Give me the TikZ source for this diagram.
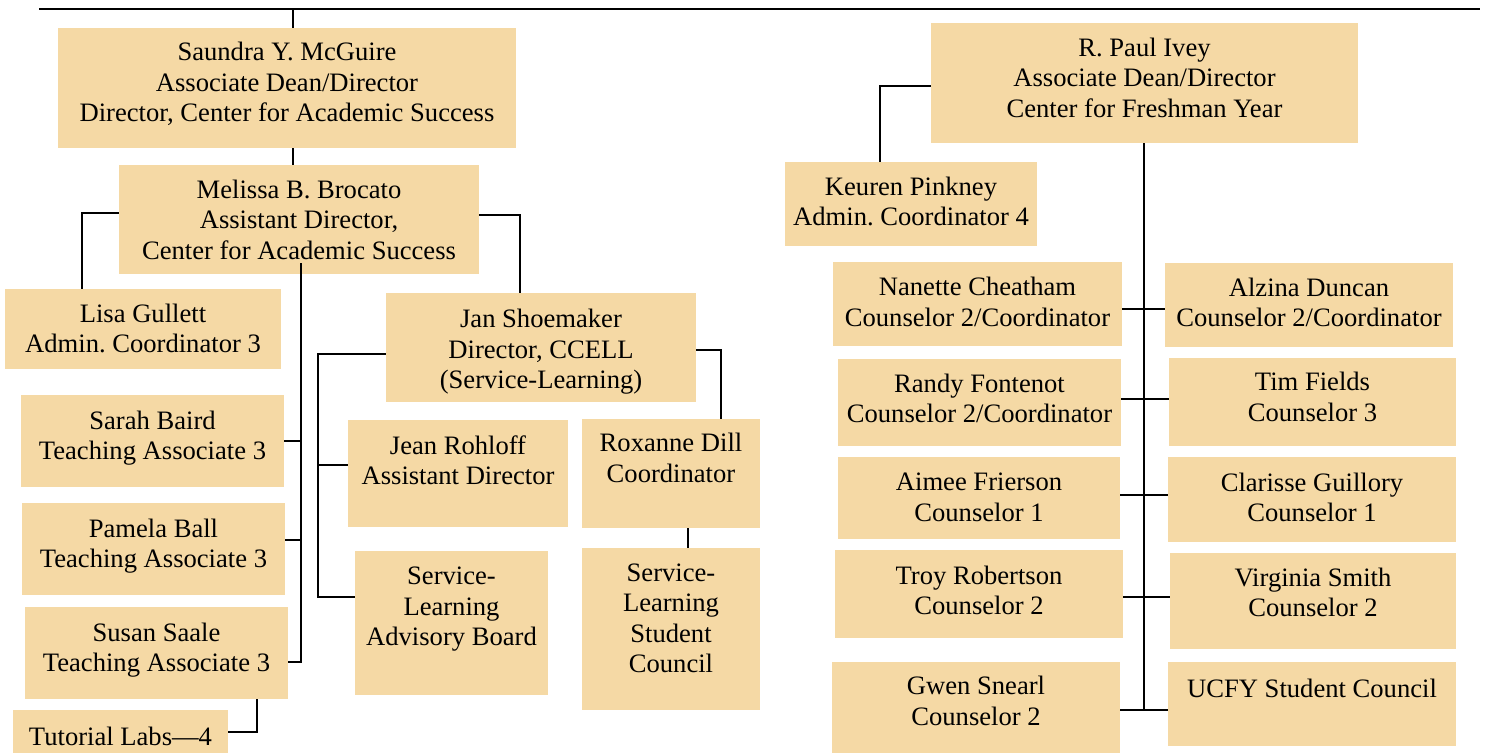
\documentclass[tikz,border=0pt]{standalone}
\usepackage{fontspec}
\setmainfont{Liberation Serif}
\usepackage{xcolor}
\usepackage{tikz}
\usetikzlibrary{positioning,calc}
\definecolor{boxtan}{HTML}{F5D9A5}
\tikzstyle{unit} = [rectangle, fill=boxtan, inner sep=0pt]
\frenchspacing

\begin{document}
\begin{tikzpicture}[x=0.5pt,y=-0.5pt]
    \tikzstyle{txt} = [align=center, inner sep=0pt, yshift=-1pt, font=\fontsize{13.3}{15.25}\selectfont,
        execute at begin node=\strut, execute at end node=\strut]
    \tikzstyle{link} = [line width=1pt]
    \useasboundingbox (0,0) rectangle (1486,753);
    % left branch
    \node[unit, minimum width=229pt, minimum height=60pt] (sm) at (287,88) {};
    \node[unit, minimum width=180pt, minimum height=54.5pt] (mb) at (299,219.5) {};
    \node[unit, minimum width=138pt, minimum height=40pt] (lg) at (143,329) {};
    \node[unit, minimum width=155pt, minimum height=54.5pt] (js) at (541,347.5) {};
    \node[unit, minimum width=131.5pt, minimum height=46pt] (sb) at (152.5,441) {};
    \node[unit, minimum width=131.5pt, minimum height=46pt] (pb) at (153.5,549) {};
    \node[unit, minimum width=131.5pt, minimum height=46pt] (ss) at (156.5,653) {};
    \node[unit, minimum width=107.5pt, minimum height=21.5pt] (tl) at (120.5,731.5) {};
    \node[unit, minimum width=110pt, minimum height=53.5pt] (jr) at (458,473.5) {};
    \node[unit, minimum width=96.5pt, minimum height=72pt] (ab) at (451.5,623) {};
    \node[unit, minimum width=89pt, minimum height=54.5pt] (rd) at (671,473.5) {};
    \node[unit, minimum width=89pt, minimum height=81pt] (sc) at (671,629) {};
    % right branch
    \node[unit, minimum width=213.5pt, minimum height=60pt] (iv) at (1144.5,83) {};
    \node[unit, minimum width=126pt, minimum height=42pt] (kp) at (911,204) {};
    \node[unit, minimum width=144.5pt, minimum height=42pt] (nc) at (977.5,304) {};
    \node[unit, minimum width=144pt, minimum height=42pt] (ad) at (1309,305) {};
    \node[unit, minimum width=141.5pt, minimum height=43.5pt] (rf) at (979.5,402.5) {};
    \node[unit, minimum width=143.5pt, minimum height=44pt] (tf) at (1312.5,402) {};
    \node[unit, minimum width=141pt, minimum height=41pt] (af) at (979,498) {};
    \node[unit, minimum width=144pt, minimum height=42.5pt] (cg) at (1312,499.5) {};
    \node[unit, minimum width=144pt, minimum height=44pt] (tr) at (979,594) {};
    \node[unit, minimum width=143pt, minimum height=48pt] (vs) at (1313,601) {};
    \node[unit, minimum width=144pt, minimum height=45.5pt] (gs) at (976,707.5) {};
    \node[unit, minimum width=144pt, minimum height=42pt] (uc) at (1312,704) {};

    % texts
    \node[txt] (smT) at (287,84.5) {Saundra Y. McGuire\\Associate Dean/Director\\Director, Center for Academic Success};
    \node[txt] (mbT) at (299,222) {Melissa B. Brocato\\Assistant Director,\\Center for Academic Success};
    \node[txt] (lgT) at (143,331) {Lisa Gullett\\Admin. Coordinator 3};
    \node[txt] (jsT) at (541,351.5) {Jan Shoemaker\\Director, CCELL\\(Service-Learning)};
    \node[txt] (sbT) at (152.5,438) {Sarah Baird\\Teaching Associate 3};
    \node[txt] (pbT) at (153.5,546) {Pamela Ball\\Teaching Associate 3};
    \node[txt] (ssT) at (156.5,650) {Susan Saale\\Teaching Associate 3};
    \node[txt] (tlT) at (120.5,737) {Tutorial Labs—4};
    \node[txt] (jrT) at (458,462.5) {Jean Rohloff\\Assistant Director};
    \node[txt] (abT) at (451.5,609) {Service-\\Learning\\Advisory Board};
    \node[txt] (rdT) at (671,460.5) {Roxanne Dill\\Coordinator};
    \node[txt] (scT) at (671,621) {Service-\\Learning\\Student\\Council};
    \node[txt] (ivT) at (1144.5,80) {R. Paul Ivey\\Associate Dean/Director\\Center for Freshman Year};
    \node[txt] (kpT) at (911,204) {Keuren Pinkney\\Admin. Coordinator 4};
    \node[txt] (ncT) at (977.5,304.5) {Nanette Cheatham\\Counselor 2/Coordinator};
    \node[txt] (adT) at (1309,305) {Alzina Duncan\\Counselor 2/Coordinator};
    \node[txt] (rfT) at (979.5,401) {Randy Fontenot\\Counselor 2/Coordinator};
    \node[txt] (tfT) at (1312.5,399.5) {Tim Fields\\Counselor 3};
    \node[txt] (afT) at (979,500) {Aimee Frierson\\Counselor 1};
    \node[txt] (cgT) at (1312,500) {Clarisse Guillory\\Counselor 1};
    \node[txt] (trT) at (979,593) {Troy Robertson\\Counselor 2};
    \node[txt] (vsT) at (1313,595) {Virginia Smith\\Counselor 2};
    \node[txt] (gsT) at (976,703.5) {Gwen Snearl\\Counselor 2};
    \node[txt] (ucT) at (1312,689) {UCFY Student Council};

    % top rule
    \coordinate (ruleL) at (39,9);
    \coordinate (ruleR) at (1480,9);
    \draw[line width=1.4pt] (ruleL) -- (ruleR);
    \coordinate (smUp) at (293,9);
    \draw[link] (smUp) -- (smUp |- sm.north);
    \draw[link] (smUp |- sm.south) -- (smUp |- mb.north);

    % Melissa's reports
    \coordinate (mbTrunk) at (301,263);
    \draw[link] ([yshift=3.25pt]mb.west) -| ([xshift=-30.5pt]lg.north);
    \draw[link] ([yshift=2.25pt]mb.east) -| ([xshift=-10.5pt]js.north);
    \draw[link] ([yshift=-4.5pt]ss.east) -| (mbTrunk);
    \draw[link] (sb.east) -| (mbTrunk);
    \draw[link] ([yshift=4.5pt]pb.east) -| (mbTrunk);
    \draw[link] ([xshift=50.25pt]ss.south) |- (tl.east);

    % Jan's reports
    \draw[link] ([yshift=-3.25pt]js.west) -- ++(-68,0) |- ([yshift=13pt]ab.west);
    \draw[link] ([yshift=4.25pt]jr.west) -- ++(-30,0);
    \draw[link] ([yshift=-1.25pt]js.east) -| ([xshift=25pt]rd.north);
    \draw[link] ([xshift=8.5pt]rd.south) -- ([xshift=8.5pt]sc.north);

    % Ivey's reports
    \coordinate (ivEnd) at (1144,710);
    \draw[link] ([yshift=-1.5pt]iv.west) -| ([xshift=-15.5pt]kp.north);
    \draw[link] (ivEnd |- iv.south) -- (ivEnd);
    \draw[link] ([yshift=-2.5pt]nc.east) -- ([yshift=-2pt]ad.west);
    \draw[link] ([yshift=1.75pt]rf.east) -- ([yshift=1.5pt]tf.west);
    \draw[link] ([yshift=1.5pt]af.east) -- ([yshift=2.25pt]cg.west);
    \draw[link] ([yshift=-1.5pt]tr.east) -- ([yshift=2pt]vs.west);
    \draw[link] ([yshift=-1.25pt]gs.east) -- ([yshift=-3pt]uc.west);
\end{tikzpicture}
\end{document}
